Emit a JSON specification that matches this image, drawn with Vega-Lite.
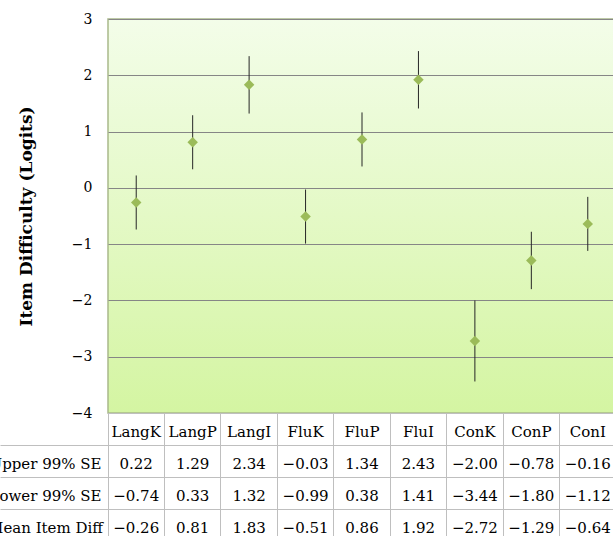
{
  "$schema": "https://vega.github.io/schema/vega-lite/v6.json",
  "padding": {"left": -13, "top": 11, "right": 0, "bottom": 0},
  "background": "white",
  "spacing": 0,
  "bounds": "flush",
  "datasets": {
    "items": [
      {"Item": "LangK", "Upper 99% SE": 0.22, "Lower 99% SE": -0.74, "Mean Item Diff": -0.26},
      {"Item": "LangP", "Upper 99% SE": 1.29, "Lower 99% SE": 0.33, "Mean Item Diff": 0.81},
      {"Item": "LangI", "Upper 99% SE": 2.34, "Lower 99% SE": 1.32, "Mean Item Diff": 1.83},
      {"Item": "FluK", "Upper 99% SE": -0.03, "Lower 99% SE": -0.99, "Mean Item Diff": -0.51},
      {"Item": "FluP", "Upper 99% SE": 1.34, "Lower 99% SE": 0.38, "Mean Item Diff": 0.86},
      {"Item": "FluI", "Upper 99% SE": 2.43, "Lower 99% SE": 1.41, "Mean Item Diff": 1.92},
      {"Item": "ConK", "Upper 99% SE": -2.00, "Lower 99% SE": -3.44, "Mean Item Diff": -2.72},
      {"Item": "ConP", "Upper 99% SE": -0.78, "Lower 99% SE": -1.80, "Mean Item Diff": -1.29},
      {"Item": "ConI", "Upper 99% SE": -0.16, "Lower 99% SE": -1.12, "Mean Item Diff": -0.64}
    ]
  },
  "vconcat": [
    {
      "width": 508,
      "height": 394,
      "data": {"name": "items"},
      "view": {
        "fill": {"gradient": "linear", "x1": 0, "y1": 0, "x2": 0, "y2": 1,
          "stops": [{"offset": 0, "color": "#f3fde9"}, {"offset": 0.5, "color": "#e4f9c6"}, {"offset": 1, "color": "#d4f5a2"}]},
        "stroke": "#a9b98a",
        "strokeWidth": 1.5
      },
      "encoding": {
        "x": {"field": "Item", "type": "nominal", "sort": null,
          "scale": {"type": "band", "paddingInner": 0, "paddingOuter": 0}, "axis": null}
      },
      "layer": [
        {
          "mark": {"type": "rule", "color": "#262626", "strokeWidth": 1},
          "encoding": {
            "y": {"field": "Lower 99% SE", "type": "quantitative",
              "scale": {"domain": [-4, 3], "nice": false, "zero": false},
              "axis": {"title": "Item Difficulty (Logits)", "values": [-4, -3, -2, -1, 0, 1, 2, 3], "format": "d",
                "grid": true, "gridColor": "#868686", "gridWidth": 1, "domain": false, "ticks": false, "tickSize": 0,
                "labelPadding": 16, "labelFontSize": 14, "labelColor": "black", "labelFont": "DejaVu Serif",
                "titleFontSize": 17, "titleFontWeight": "bold", "titlePadding": 36, "titleColor": "black", "titleFont": "DejaVu Serif"}},
            "y2": {"field": "Upper 99% SE"}
          }
        },
        {
          "mark": {"type": "point", "shape": "diamond", "filled": true, "color": "#9bbb59", "opacity": 1, "size": 110},
          "encoding": {
            "y": {"field": "Mean Item Diff", "type": "quantitative"}
          }
        }
      ]
    },
    {
      "width": 508,
      "height": 128,
      "data": {"name": "items"},
      "view": {"stroke": "#bfbfbf", "fill": "white"},
      "encoding": {
        "x": {"field": "Item", "type": "nominal", "sort": null,
          "scale": {"type": "band", "paddingInner": 0, "paddingOuter": 0},
          "axis": {"title": null, "labels": false, "ticks": false, "domain": false, "grid": true, "bandPosition": 0, "gridColor": "#bfbfbf"}}
      },
      "layer": [
        {
          "transform": [{"fold": ["Upper 99% SE", "Lower 99% SE", "Mean Item Diff"], "as": ["row", "value"]}],
          "mark": {"type": "text", "fontSize": 15, "font": "DejaVu Serif", "color": "black", "dy": 3},
          "encoding": {
            "y": {"field": "row", "type": "nominal",
              "scale": {"type": "band", "domain": ["Item", "Upper 99% SE", "Lower 99% SE", "Mean Item Diff"], "paddingInner": 0, "paddingOuter": 0},
              "axis": {"title": null, "values": ["Upper 99% SE", "Lower 99% SE", "Mean Item Diff"], "bandPosition": 0,
                "tickSize": 108, "tickColor": "#bfbfbf", "labelAlign": "center", "labelPadding": -45, "labelOffset": 3,
                "labelBaseline": "middle", "domain": true, "domainColor": "#bfbfbf", "grid": true, "gridColor": "#bfbfbf",
                "labelFontSize": 15, "labelColor": "black", "labelFont": "DejaVu Serif", "labelLimit": 300}},
            "text": {"field": "value", "type": "quantitative", "format": ".2f"}
          }
        },
        {
          "mark": {"type": "text", "fontSize": 15, "font": "DejaVu Serif", "color": "black", "dy": 3},
          "encoding": {
            "y": {"datum": "Item", "type": "nominal", "bandPosition": 0.5},
            "text": {"field": "Item", "type": "nominal"}
          }
        }
      ]
    }
  ]
}
